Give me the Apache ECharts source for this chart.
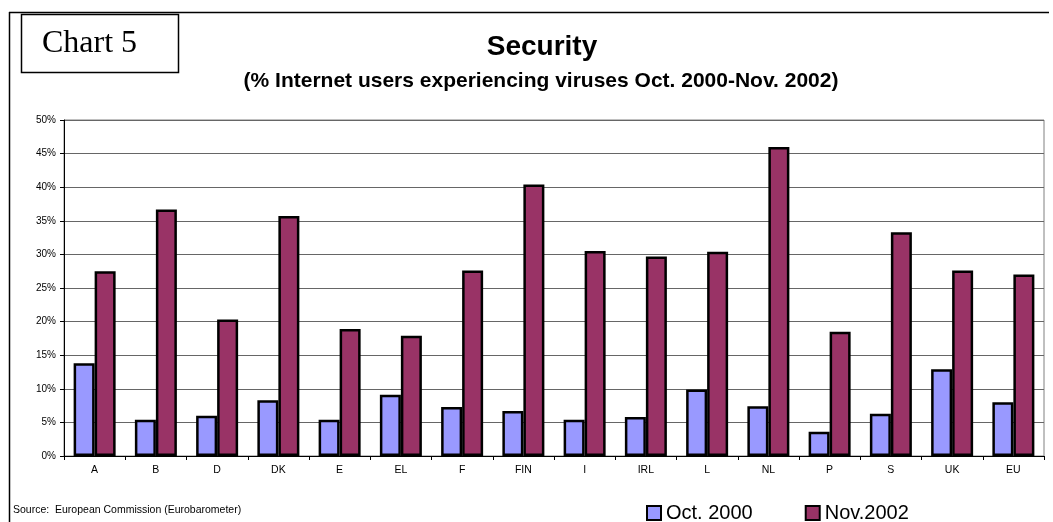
<!DOCTYPE html>
<html>
<head>
<meta charset="utf-8">
<script src="https://cdn.jsdelivr.net/npm/echarts@6/dist/echarts.min.js"></script>
<style>
html,body{margin:0;padding:0;background:#fff;}
#chart{width:1053px;height:522px;}
</style>
</head>
<body>
<div id="chart"></div>
<script>
var categories = ['A','B','D','DK','E','EL','F','FIN','I','IRL','L','NL','P','S','UK','EU'];
var oct2000 = [13.8,5.4,6.0,8.3,5.4,9.1,7.3,6.7,5.4,5.8,9.9,7.4,3.6,6.3,12.9,8.0];
var nov2002 = [27.5,36.7,20.3,35.7,18.9,17.9,27.6,40.4,30.5,29.7,30.4,46.0,18.5,33.3,27.6,27.0];
var seriesNames = ['Oct. 2000','Nov.2002'];
var titleText = 'Security';
var subtitleText = '(% Internet users experiencing viruses Oct. 2000-Nov. 2002)';
var chartLabel = 'Chart 5';
var sourceText = 'Source:  European Commission (Eurobarometer)';

var sans = '"Liberation Sans", Arial, sans-serif';
var chart = echarts.init(document.getElementById('chart'), null, {renderer:'canvas'});
chart.setOption({
  backgroundColor:'#ffffff',
  animation:false,
  grid:{left:64, right:9, top:120, bottom:66, show:true, borderColor:'#808080', borderWidth:1},
  legend:{
    data:seriesNames, left:641, top:498, itemWidth:14, itemHeight:14, itemGap:52,
    icon:'rect',
    textStyle:{fontFamily:sans, fontSize:20, color:'#000'}
  },
  xAxis:{
    type:'category', data:categories, boundaryGap:true,
    axisLine:{lineStyle:{color:'#000', width:1}},
    axisTick:{show:true, length:4, lineStyle:{color:'#000'}},
    axisLabel:{fontFamily:sans, fontSize:10.5, color:'#000', margin:9}
  },
  yAxis:{
    type:'value', min:0, max:50, interval:5,
    axisLine:{show:true, lineStyle:{color:'#000', width:1}},
    axisTick:{show:true, length:4, lineStyle:{color:'#000'}},
    axisLabel:{fontFamily:sans, fontSize:10, color:'#000', margin:8, formatter:'{value}%'},
    splitLine:{lineStyle:{color:'#666666', width:1}}
  },
  series:[
    {name:seriesNames[0], type:'bar', data:oct2000, barWidth:21, barGap:'0%',
     itemStyle:{color:'#9999FF', borderColor:'#000', borderWidth:2.5}},
    {name:seriesNames[1], type:'bar', data:nov2002, barWidth:21, barGap:'0%',
     itemStyle:{color:'#993366', borderColor:'#000', borderWidth:2.5}}
  ],
  graphic:[
    {type:'line', shape:{x1:9, y1:12.5, x2:1049, y2:12.5}, style:{stroke:'#000', lineWidth:1.5}},
    {type:'line', shape:{x1:9.5, y1:12, x2:9.5, y2:522}, style:{stroke:'#000', lineWidth:1.5}},
    {type:'rect', shape:{x:21.5, y:14.5, width:157, height:58}, style:{fill:'#fff', stroke:'#000', lineWidth:1.5}},
    {type:'text', x:42, y:44, style:{text:chartLabel, font:'32px "Liberation Serif", "Times New Roman", serif', fill:'#000', textVerticalAlign:'middle', textAlign:'left'}},
    {type:'text', x:542, y:47, style:{text:titleText, font:'bold 28px "Liberation Sans", Arial, sans-serif', fill:'#000', textVerticalAlign:'middle', textAlign:'center'}},
    {type:'text', x:541, y:81, style:{text:subtitleText, font:'bold 21px "Liberation Sans", Arial, sans-serif', fill:'#000', textVerticalAlign:'middle', textAlign:'center'}},
    {type:'text', x:13, y:510, style:{text:sourceText, font:'10.5px "Liberation Sans", Arial, sans-serif', fill:'#000', textVerticalAlign:'middle', textAlign:'left'}}
  ]
});
</script>
</body>
</html>
